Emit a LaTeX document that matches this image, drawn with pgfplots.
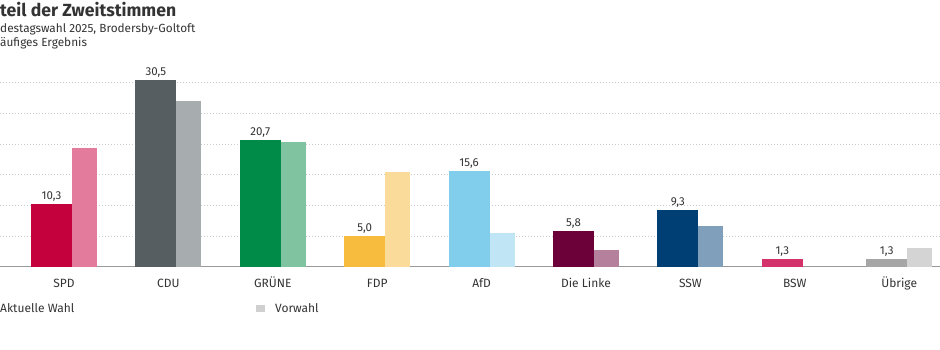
\documentclass[border=0pt]{standalone}
\usepackage{fontspec}
\setmainfont{Fira Sans}
\usepackage{pgfplots}
\pgfplotsset{compat=1.18}
\definecolor{txt}{HTML}{333333}
\definecolor{spdA}{HTML}{C4003D}\definecolor{spdB}{HTML}{E37C9C}
\definecolor{cduA}{HTML}{575E62}\definecolor{cduB}{HTML}{A7ACAF}
\definecolor{gruA}{HTML}{008B49}\definecolor{gruB}{HTML}{7FC3A0}
\definecolor{fdpA}{HTML}{F7BB3D}\definecolor{fdpB}{HTML}{FBDB9A}
\definecolor{afdA}{HTML}{80CDEC}\definecolor{afdB}{HTML}{C0E6F6}
\definecolor{linA}{HTML}{6C0039}\definecolor{linB}{HTML}{B5809C}
\definecolor{sswA}{HTML}{003F73}\definecolor{sswB}{HTML}{7F9FBA}
\definecolor{bswA}{HTML}{D4326B}
\definecolor{ubrA}{HTML}{A6A6A6}\definecolor{ubrB}{HTML}{D4D4D4}
\definecolor{legA}{HTML}{575E62}\definecolor{legB}{HTML}{D0D0D0}
\pgfplotsset{
  cur/.style={fill=#1, draw=none, bar width=41pt, bar shift=-12.5pt,
    nodes near coords={\pgfmathprintnumber[use comma, fixed, fixed zerofill, precision=1, assume math mode=true]{\pgfplotspointmeta}}},
  prv/.style={fill=#1, draw=none, bar width=25pt, bar shift=20.5pt},
}
\begin{document}
\begin{tikzpicture}
\path[use as bounding box] (0pt,0pt) rectangle (940pt,350pt);
\clip (0pt,0pt) rectangle (940pt,350pt);
\begin{axis}[
  at={(0pt,83.3pt)}, anchor=south west,
  x=104.4pt, y=6.13pt,
  xmin=-0.613, xmax=8.391, ymin=0, ymax=32,
  enlargelimits=false,
  ybar,
  axis x line*=bottom, axis y line*=left,
  x axis line style={-, draw=black!40, line width=1.2pt},
  y axis line style={draw=none},
  xtick={0,1,2,3,4,5,6,7,8},
  xticklabels={SPD,CDU,GRÜNE,FDP,AfD,Die Linke,SSW,BSW,Übrige},
  xtick style={draw=none},
  xticklabel style={anchor=base, yshift=-17pt, font=\fontsize{12pt}{14pt}\selectfont, text=txt},
  ytick={5,10,15,20,25,30},
  yticklabels={},
  ytick style={draw=none},
  ymajorgrids,
  major grid style={draw=black!20, dash pattern=on 1.2pt off 1.8pt, line width=0.7pt},
  every node near coord/.append style={anchor=base, yshift=4.4pt, font=\fontsize{11.5pt}{13pt}\selectfont, text=txt},
]
% Vorwahl
\addplot[prv=spdB] coordinates {(0,19.3)};
\addplot[prv=cduB] coordinates {(1,27.1)};
\addplot[prv=gruB] coordinates {(2,20.3)};
\addplot[prv=fdpB] coordinates {(3,15.4)};
\addplot[prv=afdB] coordinates {(4,5.5)};
\addplot[prv=linB] coordinates {(5,2.8)};
\addplot[prv=sswB] coordinates {(6,6.6)};
\addplot[prv=ubrB] coordinates {(8,3.1)};
% Aktuelle Wahl
\addplot[cur=spdA] coordinates {(0,10.3)};
\addplot[cur=cduA] coordinates {(1,30.5)};
\addplot[cur=gruA] coordinates {(2,20.7)};
\addplot[cur=fdpA] coordinates {(3,5.0)};
\addplot[cur=afdA] coordinates {(4,15.6)};
\addplot[cur=linA] coordinates {(5,5.8)};
\addplot[cur=sswA] coordinates {(6,9.3)};
\addplot[cur=bswA] coordinates {(7,1.3)};
\addplot[cur=ubrA] coordinates {(8,1.3)};
\end{axis}
% titles (the reference shows them cut at its left edge)
\node[anchor=base west, inner sep=0pt, text=txt, font=\bfseries\fontsize{17.6pt}{20pt}\selectfont] at (0pt,333pt) {teil der Zweitstimmen};
\node[anchor=base west, inner sep=0pt, text=txt, font=\fontsize{11.8pt}{13pt}\selectfont] at (0pt,317pt) {destagswahl 2025, Brodersby-Goltoft};
\node[anchor=base west, inner sep=0pt, text=txt, font=\fontsize{11.8pt}{13pt}\selectfont] at (0pt,303pt) {äufiges Ergebnis};
% legend
\fill[legA] (-21pt,37.7pt) rectangle (-12pt,45pt);
\node[anchor=base west, inner sep=0pt, text=txt, font=\fontsize{12pt}{14pt}\selectfont] at (0pt,37pt) {Aktuelle Wahl};
\fill[legB] (256pt,37.7pt) rectangle (265pt,45pt);
\node[anchor=base west, inner sep=0pt, text=txt, font=\fontsize{12pt}{14pt}\selectfont] at (275pt,37pt) {Vorwahl};
\end{tikzpicture}
\end{document}
